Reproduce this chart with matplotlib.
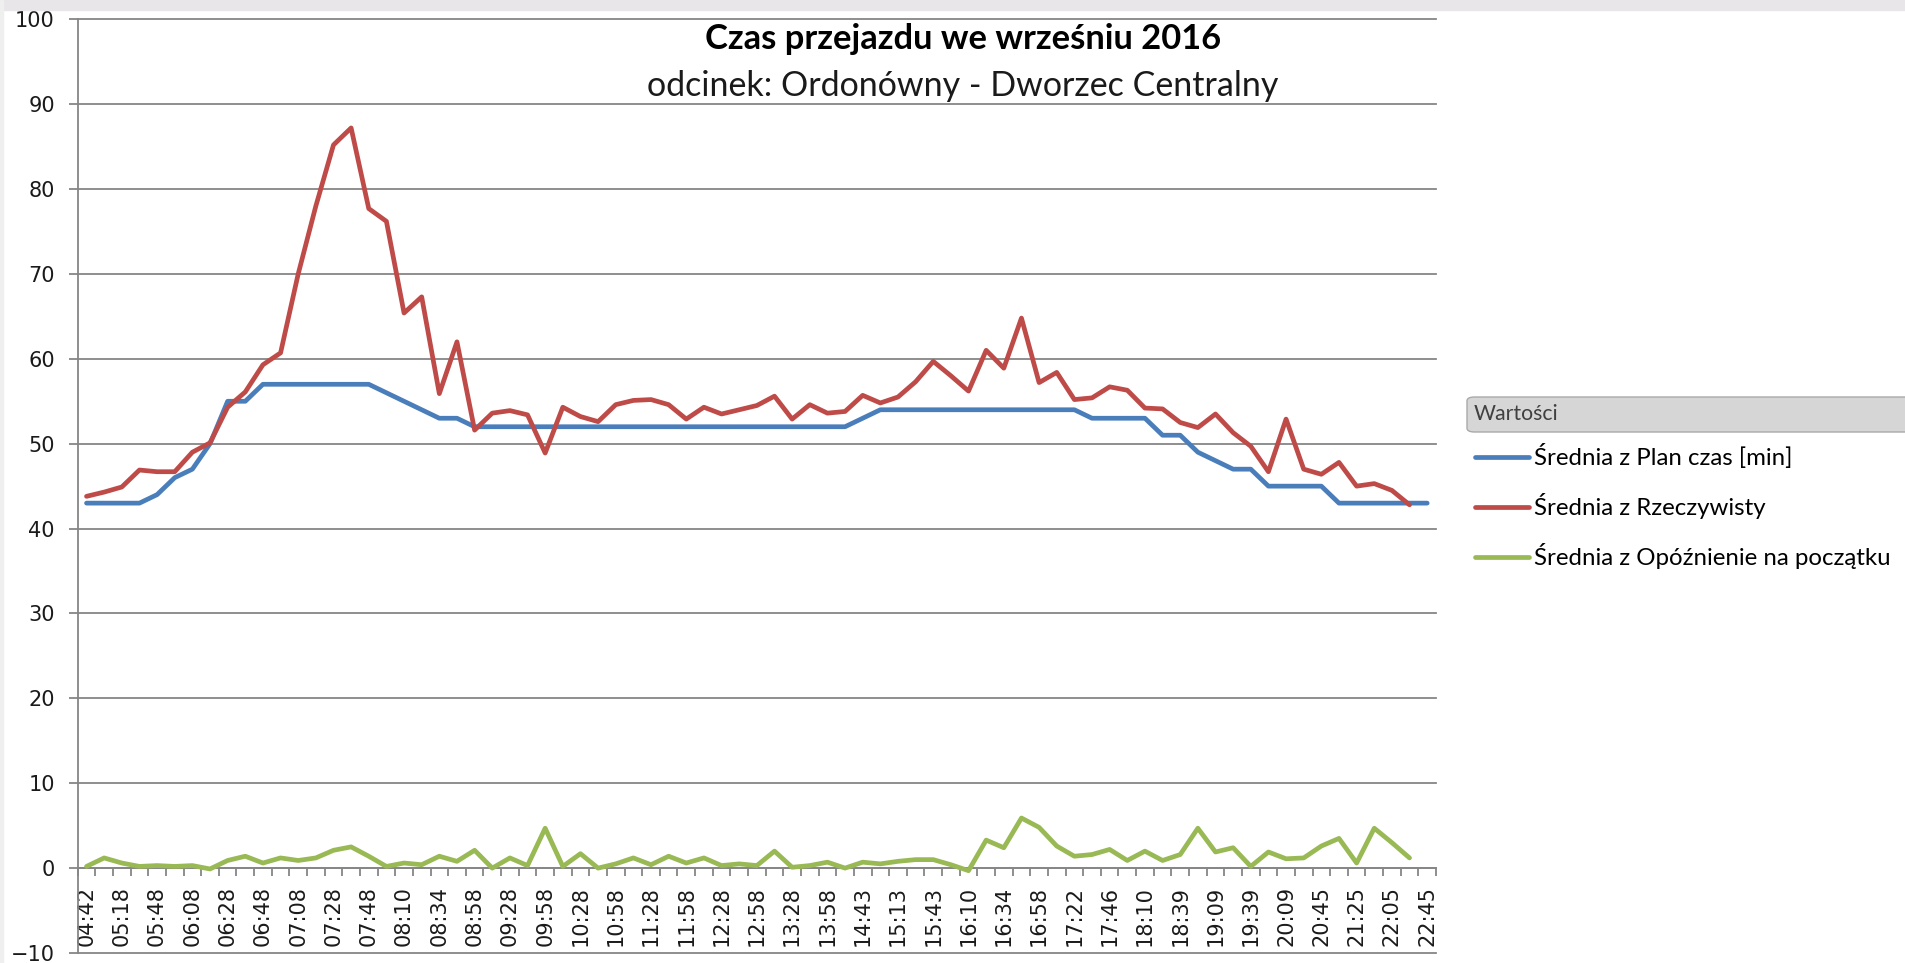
import numpy as np
import matplotlib
matplotlib.use("Agg")
import matplotlib.pyplot as plt
from matplotlib.patches import FancyBboxPatch, Rectangle

# data (one value per departure, 77 departures)
plan = [43, 43, 43, 43, 44, 46, 47, 50, 55, 55,
        57, 57, 57, 57, 57, 57, 57, 56, 55, 54,
        53, 53, 52, 52, 52, 52, 52, 52, 52, 52,
        52, 52, 52, 52, 52, 52, 52, 52, 52, 52,
        52, 52, 52, 52, 53, 54, 54, 54, 54, 54,
        54, 54, 54, 54, 54, 54, 54, 53, 53, 53,
        53, 51, 51, 49, 48, 47, 47, 45, 45, 45,
        45, 43, 43, 43, 43, 43, 43]
actual = [43.8, 44.3, 44.9, 46.9, 46.7, 46.7, 49.0, 50.1, 54.3, 56.1,
          59.3, 60.7, 70.0, 78.0, 85.2, 87.2, 77.7, 76.2, 65.4, 67.3,
          55.9, 62.0, 51.6, 53.6, 53.9, 53.4, 48.9, 54.3, 53.2, 52.6,
          54.6, 55.1, 55.2, 54.6, 52.9, 54.3, 53.5, 54.0, 54.5, 55.6,
          52.9, 54.6, 53.6, 53.8, 55.7, 54.8, 55.5, 57.3, 59.7, 58.0,
          56.2, 61.0, 58.9, 64.8, 57.2, 58.4, 55.2, 55.4, 56.7, 56.3,
          54.2, 54.1, 52.5, 51.9, 53.5, 51.3, 49.7, 46.7, 52.9, 47.0,
          46.4, 47.8, 45.0, 45.3, 44.5, 42.8, np.nan]
delay = [0.2, 1.2, 0.6, 0.2, 0.3, 0.2, 0.3, -0.1, 0.9, 1.4,
         0.6, 1.2, 0.9, 1.2, 2.1, 2.5, 1.4, 0.2, 0.6, 0.4,
         1.4, 0.8, 2.1, 0.0, 1.2, 0.3, 4.7, 0.2, 1.7, 0.0,
         0.5, 1.2, 0.4, 1.4, 0.6, 1.2, 0.3, 0.5, 0.3, 2.0,
         0.1, 0.3, 0.7, 0.0, 0.7, 0.5, 0.8, 1.0, 1.0, 0.4,
         -0.3, 3.3, 2.4, 5.9, 4.8, 2.6, 1.4, 1.6, 2.2, 0.9,
         2.0, 0.9, 1.6, 4.7, 1.9, 2.4, 0.2, 1.9, 1.1, 1.2,
         2.6, 3.5, 0.6, 4.7, 3.0, 1.2, np.nan]
# only every second departure is labelled on the axis
tick_labels = ['04:42', '05:18', '05:48', '06:08', '06:28', '06:48', '07:08', '07:28',
               '07:48', '08:10', '08:34', '08:58', '09:28', '09:58', '10:28', '10:58',
               '11:28', '11:58', '12:28', '12:58', '13:28', '13:58', '14:43', '15:13',
               '15:43', '16:10', '16:34', '16:58', '17:22', '17:46', '18:10', '18:39',
               '19:09', '19:39', '20:09', '20:45', '21:25', '22:05', '22:45']
series_names = ['Średnia z Plan czas [min]', 'Średnia z Rzeczywisty',
                'Średnia z Opóźnienie na początku']
colors = ['#4a7ebb', '#be4b48', '#98b954']

W, H = 1905, 963
fig = plt.figure(figsize=(W / 100, H / 100), dpi=100)
fig.patch.set_facecolor('white')
# screenshot edges
fig.patches.append(Rectangle((0, 1 - 10 / H), 1, 10 / H, transform=fig.transFigure,
                             color='#e8e6e8', zorder=0))
fig.patches.append(Rectangle((0, 0), 3 / W, 1, transform=fig.transFigure,
                             color='#efefef', zorder=0))

left, right, top, bottom = 77.7, 1436, 19.3, 953
ax = fig.add_axes([left / W, 1 - bottom / H, (right - left) / W, (bottom - top) / H])

x = np.arange(len(plan))
for vals, c, name in zip([plan, actual, delay], colors, series_names):
    ax.plot(x, vals, color=c, lw=3.4, label=name, solid_joinstyle='round',
            solid_capstyle='round', zorder=3)

grid_c = '#868686'
ax.set_xlim(-0.5, len(plan) - 0.5)
ax.set_ylim(-10, 100)
ax.set_yticks(range(-10, 101, 10))
ax.yaxis.grid(True, color=grid_c, lw=1.3)
for gl in ax.get_ygridlines():
    gl.set_clip_on(False)
ax.set_axisbelow(True)

for s in ['top', 'right']:
    ax.spines[s].set_visible(False)
ax.spines['left'].set_color(grid_c)
ax.spines['left'].set_linewidth(1.3)
ax.spines['bottom'].set_position(('data', 0))
ax.spines['bottom'].set_color(grid_c)
ax.spines['bottom'].set_linewidth(1.3)

ax.tick_params(axis='y', length=6.5, width=1.3, color=grid_c, labelsize=15, pad=10,
               labelcolor='#1a1a1a')
ax.set_xticks(np.arange(-0.5, len(plan), 1))
ax.set_xticklabels([])
ax.tick_params(axis='x', which='major', length=5.8, width=1.3, color=grid_c)
ax.set_xticks(x[::2], tick_labels, minor=True)
ax.tick_params(axis='x', which='minor', length=0, pad=13, labelsize=15,
               labelrotation=90, labelcolor='#1a1a1a')

fig.text(963 / W, 1 - 39 / H, 'Czas przejazdu we wrześniu 2016', ha='center', va='center',
         fontsize=24.8, fontweight='bold', family='Lato')
fig.text(963 / W, 1 - 86 / H, 'odcinek: Ordonówny - Dworzec Centralny', ha='center',
         va='center', fontsize=24.5, family='Lato', color='#1a1a1a')

# legend header
hdr = FancyBboxPatch((1467 / W, 1 - 432 / H), (W - 1467 + 20) / W, 35 / H,
                     boxstyle='round,pad=0,rounding_size=0.004', transform=fig.transFigure,
                     facecolor='#d6d6d6', edgecolor='#a9a9a9', lw=1, zorder=1)
fig.patches.append(hdr)
fig.text(1474 / W, 1 - 414 / H, 'Wartości', ha='left', va='center', fontsize=15.3,
         family='Lato', color='#404040')

ax.legend(loc='upper left', bbox_to_anchor=(1475 / W, 1 - 444 / H),
          bbox_transform=fig.transFigure, frameon=False, borderpad=0, borderaxespad=0,
          handlelength=2.25, handletextpad=0.2, labelspacing=1.0,
          prop={'family': 'Lato', 'size': 17.3})

fig.savefig('out.png', dpi=100)
